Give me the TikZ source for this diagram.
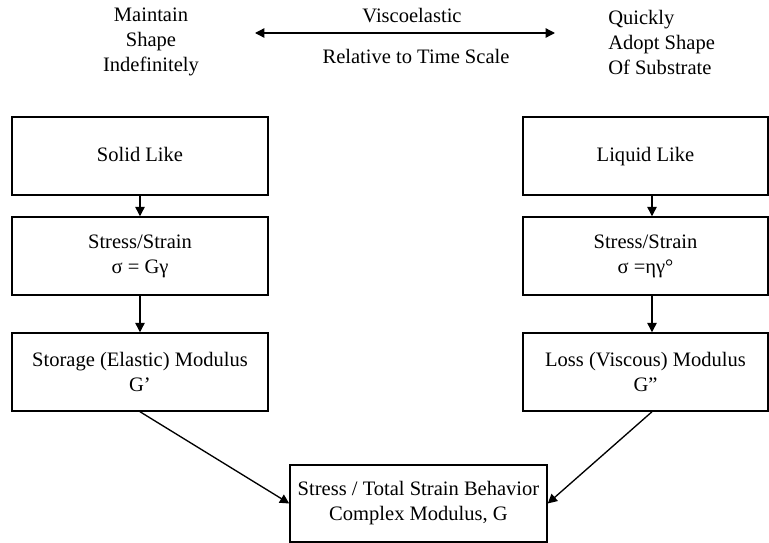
\documentclass[tikz,border=0pt]{standalone}
\usepackage{fontspec}
\setmainfont{Liberation Serif}
\usetikzlibrary{arrows.meta,calc}
\begin{document}
\begin{tikzpicture}[x=0.75pt,y=-0.75pt,
  every node/.style={font=\fontsize{15.4}{18.75}\selectfont, align=center, inner sep=0pt},
  flowbox/.style={draw, line width=1.1pt, minimum width=192pt, minimum height=58.5pt},
  rbox/.style={draw, line width=1.1pt, minimum width=183.75pt, minimum height=58.5pt},
  conn/.style={line width=1pt, -{Triangle[length=7pt,width=7pt]}},
  dconn/.style={line width=1pt, {Triangle[length=7pt,width=7pt]}-{Triangle[length=7pt,width=7pt]}}]
\useasboundingbox (0,0) rectangle (769,543);
% top texts
\node (maintain) at (151,42) {Maintain\\Shape\\Indefinitely};
\node (visco) at (412,17) {\strut Viscoelastic};
\node (rel) at (416,58) {\strut Relative to Time Scale};
\node[anchor=west, align=left] (quick) at (608,42) {Quickly\\Adopt Shape\\Of Substrate};
\coordinate (aL) at (255,33);
\coordinate (aR) at (555,33);
\draw[dconn] (aL) -- (aR);
% left column
\node[flowbox] (solid) at (140,156) {\strut Solid Like};
\node[flowbox] (ss1) at (140,256) {Stress/Strain\\σ = Gγ};
\node[flowbox] (stor) at (140,372) {Storage (Elastic) Modulus\\G’};
% right column
\node[rbox] (liquid) at (645.5,156) {\strut Liquid Like};
\node[rbox] (ss2) at (645.5,256) {Stress/Strain\\σ =ηγ°};
\node[rbox] (loss) at (645.5,372) {Loss (Viscous) Modulus\\G”};
% bottom
\node[draw, line width=1.1pt, minimum width=192.75pt, minimum height=57.75pt] (cplx) at (418.5,503.5) {Stress / Total Strain Behavior\\Complex Modulus, G};
% connectors
\draw[conn] (solid) -- (ss1);
\draw[conn] (ss1) -- (stor);
\draw[conn] ($(liquid.south)+(6.5,0)$) -- ($(ss2.north)+(6.5,0)$);
\draw[conn] ($(ss2.south)+(6.5,0)$) -- ($(loss.north)+(6.5,0)$);
\draw[conn] (stor.south) -- (cplx.west);
\draw[conn] ($(loss.south)+(6.5,0)$) -- (cplx.east);
\end{tikzpicture}
\end{document}
